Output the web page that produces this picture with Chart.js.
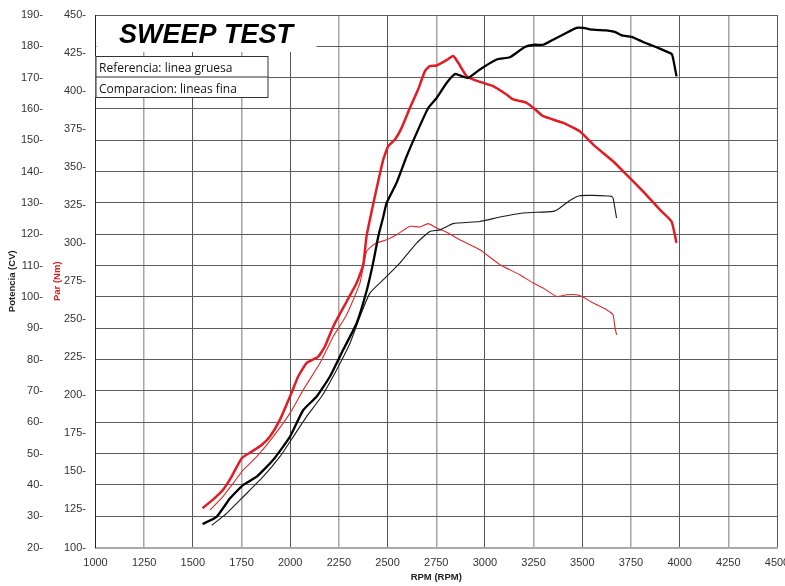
<!DOCTYPE html>
<html>
<head>
<meta charset="utf-8">
<script src="https://cdn.jsdelivr.net/npm/chart.js@4"></script>
<style>
  body { margin: 0; background: #fff; }
  canvas { display: block; }
</style>
</head>
<body>
<canvas id="myChart" width="785" height="586"></canvas>
<script>
// Referencia (linea gruesa) - Par (Nm)
const refTorqueRpm = [1550, 1613, 1655, 1699, 1751, 1802, 1853, 1896, 1947, 1999, 2041, 2084, 2144, 2178, 2221, 2290, 2341, 2375, 2392, 2435, 2478, 2503, 2538, 2572, 2615, 2657, 2692, 2717, 2752, 2803, 2837, 2863, 2906, 2948, 3042, 3111, 3145, 3214, 3248, 3299, 3402, 3487, 3556, 3658, 3727, 3812, 3898, 3958, 3984];
const refTorqueNm = [125.8, 132.6, 137.9, 146.6, 158.7, 163.0, 167.4, 172.9, 183.9, 199.2, 212.4, 221.2, 225.5, 232.1, 245.3, 261.7, 273.8, 285.9, 304.5, 330.8, 355.0, 363.7, 368.1, 375.8, 389.0, 401.0, 413.1, 416.4, 416.8, 420.3, 423.0, 418.6, 409.8, 407.2, 403.2, 397.7, 394.5, 392.3, 389.0, 383.5, 379.1, 373.6, 364.8, 353.9, 345.1, 334.1, 322.1, 314.4, 300.2];

// Referencia (linea gruesa) - Potencia (CV)
const refPowerRpm = [1550, 1622, 1691, 1759, 1828, 1913, 1999, 2067, 2136, 2204, 2272, 2341, 2394, 2427, 2452, 2478, 2495, 2546, 2598, 2657, 2709, 2752, 2803, 2846, 2871, 2914, 2974, 3060, 3128, 3205, 3256, 3299, 3350, 3410, 3470, 3504, 3556, 3624, 3667, 3702, 3753, 3812, 3881, 3958, 3966, 3984];
const refPowerCv = [27.5, 29.8, 35.7, 40.0, 42.6, 48.0, 55.4, 63.9, 68.2, 74.6, 83.1, 91.6, 102.3, 111.2, 119.2, 125.6, 130.0, 136.4, 144.9, 153.4, 160.3, 163.5, 168.3, 171.2, 170.7, 169.9, 172.6, 175.8, 176.5, 179.8, 180.5, 180.5, 182.1, 184.0, 185.9, 185.9, 185.3, 185.1, 184.6, 183.5, 183.0, 181.4, 179.7, 177.6, 176.3, 170.4];

// Comparacion (lineas fina) - Par (Nm)
const compTorqueRpm = [1588, 1648, 1707, 1759, 1828, 1913, 1999, 2067, 2153, 2221, 2290, 2358, 2392, 2435, 2495, 2546, 2615, 2666, 2709, 2752, 2811, 2871, 2974, 3077, 3179, 3248, 3299, 3368, 3419, 3470, 3504, 3556, 3624, 3658, 3667, 3676];
const compTorqueNm = [124.7, 132.4, 142.2, 151.0, 159.7, 172.9, 188.3, 203.6, 221.2, 238.7, 253.0, 273.8, 294.6, 299.7, 302.3, 305.6, 311.1, 310.7, 312.9, 310.0, 306.7, 302.3, 295.7, 285.9, 279.3, 273.8, 270.6, 265.0, 266.1, 266.1, 264.6, 260.7, 256.3, 253.0, 245.3, 239.8];

// Comparacion (lineas fina) - Potencia (CV)
const compPowerRpm = [1597, 1674, 1759, 1861, 1947, 2016, 2084, 2161, 2238, 2307, 2358, 2409, 2478, 2563, 2649, 2717, 2769, 2837, 2974, 3077, 3196, 3350, 3385, 3436, 3487, 3556, 3650, 3658, 3676];
const compPowerCv = [27.1, 30.9, 36.2, 42.6, 49.0, 55.4, 61.8, 68.2, 76.7, 85.2, 93.7, 101.2, 105.5, 110.8, 117.2, 120.9, 121.4, 123.4, 124.1, 125.5, 126.8, 127.3, 128.4, 130.8, 132.3, 132.4, 132.1, 131.6, 125.2];

const chartTitle = "SWEEP TEST";
const noteLines = ["Referencia: linea gruesa", "Comparacion: lineas fina"];

const tickFont = { family: "'Liberation Sans Narrow', 'Liberation Sans', Arial, sans-serif", size: 11 };
const titleFont = { family: "'Liberation Sans', Arial, sans-serif", size: 9.5, weight: "bold" };

function toPoints(xs, ys) {
  return xs.map((x, i) => ({ x: x, y: ys[i] }));
}

// white title box + note box, painted over the grid
const boxesPlugin = {
  id: "boxes",
  beforeDatasetsDraw(chart) {
    const ctx = chart.ctx;
    const left = chart.chartArea.left;
    ctx.save();
    ctx.fillStyle = "#fff";
    ctx.fillRect(left + 1, 16, 220, 36);
    ctx.fillStyle = "#000";
    ctx.font = "italic bold 27px 'Liberation Sans', Arial, sans-serif";
    ctx.textBaseline = "alphabetic";
    ctx.fillText(chartTitle, 119, 43);

    ctx.fillStyle = "#fff";
    ctx.fillRect(left, 56, 173, 41.5);
    ctx.strokeStyle = "#333";
    ctx.lineWidth = 1;
    ctx.strokeRect(left + 0.5, 56.5, 172, 41);
    ctx.beginPath();
    ctx.moveTo(left, 77);
    ctx.lineTo(left + 173, 77);
    ctx.stroke();
    ctx.fillStyle = "#111";
    ctx.font = "12px 'Open Sans', sans-serif";
    ctx.fillText(noteLines[0], 99, 72);
    ctx.fillText(noteLines[1], 99, 92.5);
    ctx.restore();
  }
};

const ctx = document.getElementById("myChart").getContext("2d");
new Chart(ctx, {
  type: "line",
  data: {
    datasets: [
      {
        label: "Potencia ref",
        data: toPoints(refPowerRpm, refPowerCv),
        yAxisID: "y",
        borderColor: "#000",
        borderWidth: 2.3,
      },
      {
        label: "Par ref",
        data: toPoints(refTorqueRpm, refTorqueNm),
        yAxisID: "y2",
        borderColor: "#e31b23",
        borderWidth: 2.5,
      },
      {
        label: "Potencia comp",
        data: toPoints(compPowerRpm, compPowerCv),
        yAxisID: "y",
        borderColor: "#1a1a1a",
        borderWidth: 1.1,
      },
      {
        label: "Par comp",
        data: toPoints(compTorqueRpm, compTorqueNm),
        yAxisID: "y2",
        borderColor: "#dd2a2a",
        borderWidth: 1.1,
      },
    ],
  },
  options: {
    responsive: false,
    animation: false,
    layout: { padding: { top: 15, right: 8, left: 0, bottom: 0 } },
    elements: {
      point: { radius: 0 },
      line: { tension: 0.15, fill: false },
    },
    plugins: {
      legend: { display: false },
      tooltip: { enabled: false },
    },
    scales: {
      x: {
        type: "linear",
        min: 1000,
        max: 4500,
        ticks: { stepSize: 250, color: "#333", font: tickFont, padding: 9, maxRotation: 0, autoSkip: false, callback: (v) => String(v) },
        grid: {
          drawTicks: false,
          color: (c) => (c.tick.value % 500 === 0 ? "#555" : "#a5a5a5"),
          lineWidth: (c) => (c.tick.value % 500 === 0 ? 1 : 1.5),
        },
        border: { color: "#aaa", width: 2 },
        title: { display: true, text: "RPM (RPM)", color: "#222", font: titleFont, padding: { top: 0, bottom: 3.3 } },
        afterFit: (s) => { s.height = 38.5; s.paddingLeft = 0; s.paddingRight = 0; },
      },
      y: {
        position: "left",
        weight: 2,
        min: 20,
        max: 190,
        ticks: { stepSize: 10, color: "#333", font: tickFont, padding: 4, callback: (v) => v + "-" },
        grid: { drawTicks: false, color: "#5c5c5c", lineWidth: 1 },
        border: { display: false },
        title: { display: true, text: "Potencia (CV)", color: "#222", font: titleFont, padding: { top: 6.3, bottom: 0 } },
        afterFit: (s) => { s.width = 47; s.paddingTop = 0; s.paddingBottom = 0; },
      },
      y2: {
        position: "left",
        weight: 1,
        min: 100,
        max: 450,
        ticks: { stepSize: 25, color: "#333", font: tickFont, padding: 9.5, callback: (v) => v + "-" },
        grid: { display: false, drawTicks: false },
        border: { display: true, color: "#222", width: 1 },
        title: { display: true, text: "Par (Nm)", color: "#d42020", font: titleFont, padding: { top: 4.3, bottom: 0 } },
        afterFit: (s) => { s.width = 48.5; s.paddingTop = 0; s.paddingBottom = 0; },
      },
    },
  },
  plugins: [boxesPlugin],
});
</script>
</body>
</html>
